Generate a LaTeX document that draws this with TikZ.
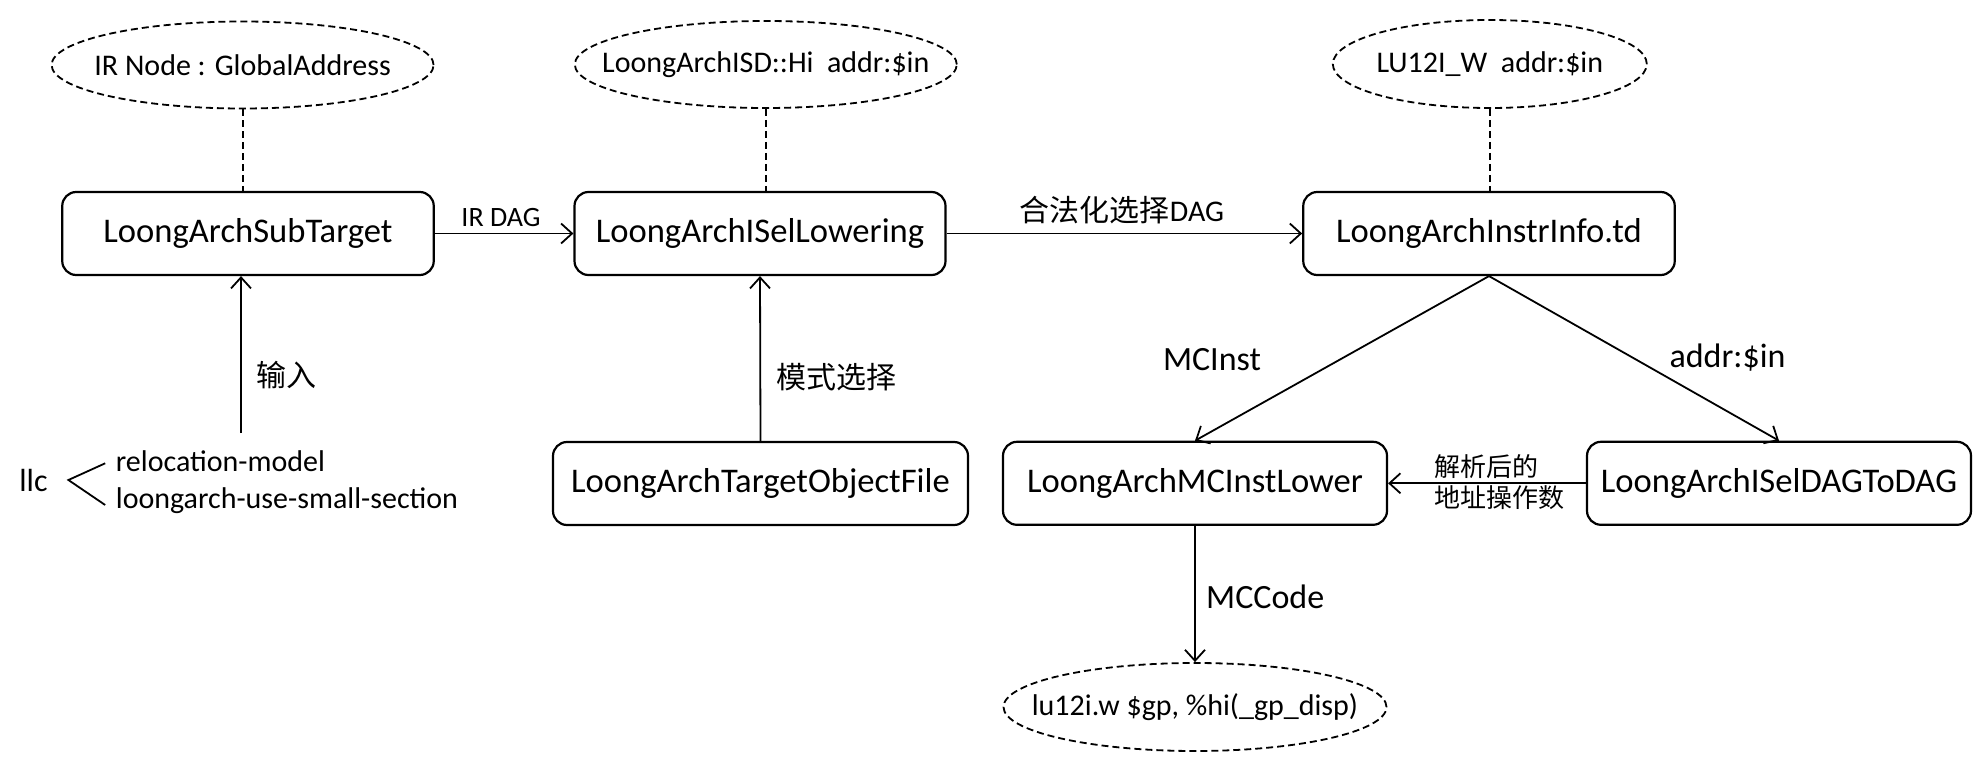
\documentclass[tikz,border=0pt]{standalone}
\usepackage{fontspec}
\setmainfont{Carlito}
\newfontfamily\cjk{Noto Sans CJK SC}
\usetikzlibrary{arrows.meta,shapes.geometric}
\begin{document}
\begin{tikzpicture}[x=1pt,y=-1pt,
  box/.style={draw,line width=2.2pt,rounded corners=14pt,minimum height=83pt,inner sep=0pt,font=\fontsize{34.6}{41}\selectfont},
  oval/.style={draw,ellipse,line width=1.8pt,dash pattern=on 7pt off 4pt,inner sep=0pt,font=\fontsize{30}{36}\selectfont},
  link/.style={line width=1.8pt,dash pattern=on 7pt off 4pt},
  arr/.style={line width=1.8pt,-{Straight Barb[length=11pt,width=20pt]}},
  plain/.style={line width=1.8pt},
  lbl/.style={inner sep=0pt,font=\fontsize{30}{36}\selectfont},
  biglbl/.style={inner sep=0pt,font=\fontsize{34}{40}\selectfont},
  smalllbl/.style={inner sep=0pt,font=\fontsize{28}{34}\selectfont}
]
\useasboundingbox[fill=white] (0,0) rectangle (1979,757);

% ellipses
\node[oval,minimum width=382pt,minimum height=87pt] (e1) at (242.6,65) {\makebox[0pt]{IR Node : GlobalAddress}};
\node[oval,minimum width=382pt,minimum height=87pt] (e2) at (765.8,64.5) {\makebox[0pt]{LoongArchISD::Hi\ \ addr:\$in}};
\node[oval,minimum width=314pt,minimum height=88pt] (e3) at (1489.8,64) {\makebox[0pt]{LU12I\_W\ \ addr:\$in}};
\node[oval,minimum width=383pt,minimum height=88pt] (e4) at (1195,707) {\makebox[0pt]{lu12i.w \$gp, \%hi(\_gp\_disp)}};

% boxes
\node[box,minimum width=371.5pt] (b1) at (248,233.5) {LoongArchSubTarget};
\node[box,minimum width=371pt] (b2) at (760,233.5) {LoongArchISelLowering};
\node[box,minimum width=371.5pt] (b3) at (1489,233.5) {LoongArchInstrInfo.td};
\node[box,minimum width=415pt] (b4) at (760.5,483.5) {LoongArchTargetObjectFile};
\node[box,minimum width=384pt] (b5) at (1195,483.3) {LoongArchMCInstLower};
\node[box,minimum width=384pt] (b6) at (1779,483.3) {LoongArchISelDAGToDAG};

% dashed links
\draw[link] (e1.south) -- (e1.south |- b1.north);
\draw[link] (e2.south) -- (e2.south |- b2.north);
\draw[link] (e3.south) -- (e3.south |- b3.north);

% arrows
\draw[arr] (b1.east) -- (b2.west);
\draw[arr] (b2.east) -- (b3.west);
\draw[arr] (b4.north) -- (b2.south);
\coordinate (in1) at (241,433);
\draw[arr] (in1) -- (in1 |- b1.south);
\draw[arr] (b3.south) -- (b5.north);
\draw[arr] (b3.south) -- (b6.north);
\draw[arr] (b6.west) -- (b5.east);
\draw[arr] (b5.south) -- (e4.north);

% llc
\node[lbl,font=\fontsize{32}{38}\selectfont,anchor=base] (llc) at (33.5,491.7) {llc};
\coordinate (k1) at (105.2,463.3);
\coordinate (k2) at (68.4,480);
\coordinate (k3) at (105.2,505);
\draw[plain] (k1) -- (k2) -- (k3);
\node[lbl,anchor=base west] (opt1) at (115.7,471.7) {relocation-model};
\node[lbl,anchor=base west] (opt2) at (115.7,508.3) {loongarch-use-small-section};

% labels
\node[smalllbl,anchor=base] (l1) at (501,226) {IR DAG};
\node[lbl,anchor=base] (l2) at (1122,221) {{\cjk 合法化选择}DAG};
\node[lbl,anchor=west] (l3) at (256,375.5) {\cjk 输入};
\node[lbl,anchor=west] (l4) at (776.5,377) {\cjk 模式选择};
\node[biglbl,anchor=base] (l5) at (1212,370) {MCInst};
\node[biglbl,anchor=base] (l6) at (1727.5,367) {addr:\$in};
\node[biglbl,anchor=base west] (l7) at (1206,608) {MCCode};
\node[inner sep=0pt,anchor=west,align=left,font=\fontsize{26}{31.5}\selectfont\cjk] (l8) at (1434,482.3) {解析后的\\地址操作数};
\end{tikzpicture}
\end{document}
